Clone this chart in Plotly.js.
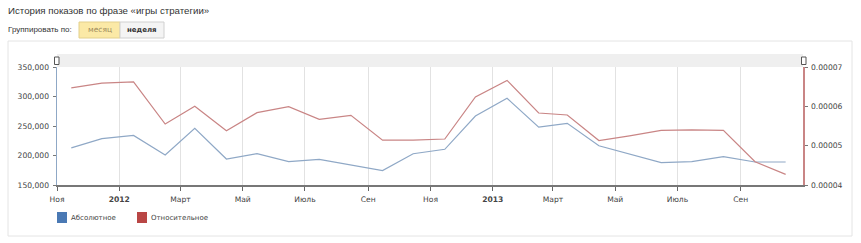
<!DOCTYPE html>
<html>
<head>
<meta charset="utf-8">
<script src="https://cdn.plot.ly/plotly-3.0.1.min.js"></script>
<style>html,body{margin:0;padding:0;background:#fff;}#chart{width:861px;height:243px;}</style>
</head>
<body>
<div id="chart"></div>
<script>
// ---- data ----
const months = ['2011-11-15','2011-12-15','2012-01-15','2012-02-15','2012-03-15','2012-04-15','2012-05-15','2012-06-15',
  '2012-07-15','2012-08-15','2012-09-15','2012-10-15','2012-11-15','2012-12-15','2013-01-15','2013-02-15',
  '2013-03-15','2013-04-15','2013-05-15','2013-06-15','2013-07-15','2013-08-15','2013-09-15','2013-10-15'];
const absolute = [213000,228500,234000,201000,246000,194000,203000,189500,
  193500,184000,174500,203000,210500,267000,297000,248000,
  254500,216500,202000,188000,189500,198000,189000,189000];
const relative = [0.0000647,0.0000659,0.0000662,0.0000555,0.0000600,0.0000538,0.0000584,0.0000599,
  0.0000567,0.0000577,0.0000514,0.0000514,0.0000517,0.0000624,0.0000666,0.0000583,
  0.0000578,0.0000513,0.0000525,0.0000539,0.0000540,0.0000539,0.0000459,0.0000427];
const tickDates = ['2011-11-01','2012-01-01','2012-03-01','2012-05-01','2012-07-01','2012-09-01',
  '2012-11-01','2013-01-01','2013-03-01','2013-05-01','2013-07-01','2013-09-01'];
const tickLabels = ['Ноя','<b>2012</b>','Март','Май','Июль','Сен','Ноя','<b>2013</b>','Март','Май','Июль','Сен'];
const seriesNames = ['Абсолютное','Относительное'];
const titleText = 'История показов по фразе «игры стратегии»';
const groupLabel = 'Группировать по:';
const buttonLabels = ['месяц','неделя'];

// ---- geometry helpers ----
const W = 861, H = 243, L = 57, R = 58, T = 67, B = 58;
const pw = W - L - R, ph = H - T - B;
const px = x => (x - L) / pw;
const py = y => (H - B - y) / ph;
const F = 'DejaVu Sans, Verdana, sans-serif';
const A = 'Liberation Sans, Arial, sans-serif';
const blueLine = '#8fa8c6', redLine = '#c98585';

function rect(x0, y0, x1, y1, fill, line, lw) {
  return {type:'rect', xref:'paper', yref:'paper', x0:px(x0), x1:px(x1), y0:py(y1), y1:py(y0),
    fillcolor:fill, line:{color:line || 'rgba(0,0,0,0)', width:lw || 0}, layer:'below'};
}
function text(x, y, t, size, color, anchor, family) {
  return {xref:'paper', yref:'paper', x:px(x), y:py(y), text:t, showarrow:false,
    xanchor:anchor || 'left', yanchor:'middle', font:{family:family || F, size:size, color:color}};
}

const shapes = [
  rect(8, 41, 852, 236, 'rgba(0,0,0,0)', '#e4e4e4', 1),
  rect(57, 54, 803, 67, '#efefef'),
  rect(79, 22, 120, 38, '#fbe9a6', '#e3d08c', 1),
  rect(120, 22, 164, 38, '#f4f4f4', '#d0d0d0', 1),
  rect(57, 212, 67, 223, '#4a79b4'),
  rect(137, 212, 147, 223, '#b94645'),
];
const handles = [
  Object.assign(rect(54.5, 57, 59, 64.5, '#ffffff', '#555', 1), {layer:'above'}),
  Object.assign(rect(801.5, 57, 806, 64.5, '#ffffff', '#555', 1), {layer:'above'}),
];

const annotations = [
  text(6, 11, titleText, 9.7, '#333', 'left', A),
  text(6, 30, groupLabel, 8, '#333', 'left', A),
  text(99.5, 30, buttonLabels[0], 7.5, '#9b8a5c', 'center', F),
  text(142, 30, '<b>' + buttonLabels[1] + '</b>', 7, '#333', 'center', F),
  text(69, 218, seriesNames[0], 7, '#444', 'left', F),
  text(149, 218, seriesNames[1], 7, '#444', 'left', F),
];

const traces = [
  {x: months, y: absolute, name: seriesNames[0], type: 'scatter', mode: 'lines',
   line: {color: blueLine, width: 1.2}, yaxis: 'y', hoverinfo: 'x+y'},
  {x: months, y: relative, name: seriesNames[1], type: 'scatter', mode: 'lines',
   line: {color: redLine, width: 1.2}, yaxis: 'y2', hoverinfo: 'x+y'},
];

const tf = {family: F, size: 7.6, color: '#444'};
const layout = {
  width: W, height: H,
  margin: {l: L, r: R, t: T, b: B, pad: 0},
  paper_bgcolor: '#fff', plot_bgcolor: '#fff',
  showlegend: false,
  font: {family: F, size: 8, color: '#444'},
  xaxis: {
    type: 'date', range: ['2011-11-01', '2013-11-01'],
    tickmode: 'array', tickvals: tickDates, ticktext: tickLabels,
    ticks: 'outside', ticklen: 4, tickcolor: '#666', tickwidth: 1,
    showline: true, linecolor: '#777', linewidth: 1.5,
    showgrid: true, gridcolor: '#e2e2e2', gridwidth: 1,
    zeroline: false, tickfont: tf,
    fixedrange: true, ticklabelstandoff: 2
  },
  yaxis: {
    range: [150000, 350000], tickmode: 'array',
    tickvals: [150000, 200000, 250000, 300000, 350000],
    tickformat: ',d', ticks: 'outside', ticklen: 3, tickcolor: '#777',
    showline: true, linecolor: blueLine, linewidth: 1.5,
    showgrid: false, zeroline: false, tickfont: tf,
    fixedrange: true, ticklabelstandoff: 2
  },
  yaxis2: {
    overlaying: 'y', side: 'right',
    range: [0.00004, 0.00007], tickmode: 'array',
    tickvals: [0.00004, 0.00005, 0.00006, 0.00007],
    tickformat: '.5f', ticks: 'outside', ticklen: 3, tickcolor: '#777',
    showline: true, linecolor: redLine, linewidth: 1.5,
    showgrid: false, zeroline: false, tickfont: tf,
    fixedrange: true, ticklabelstandoff: 2
  },
  shapes: shapes.concat(handles),
  annotations: annotations,
};

Plotly.newPlot('chart', traces, layout, {displayModeBar: false, staticPlot: true});
</script>
</body>
</html>
